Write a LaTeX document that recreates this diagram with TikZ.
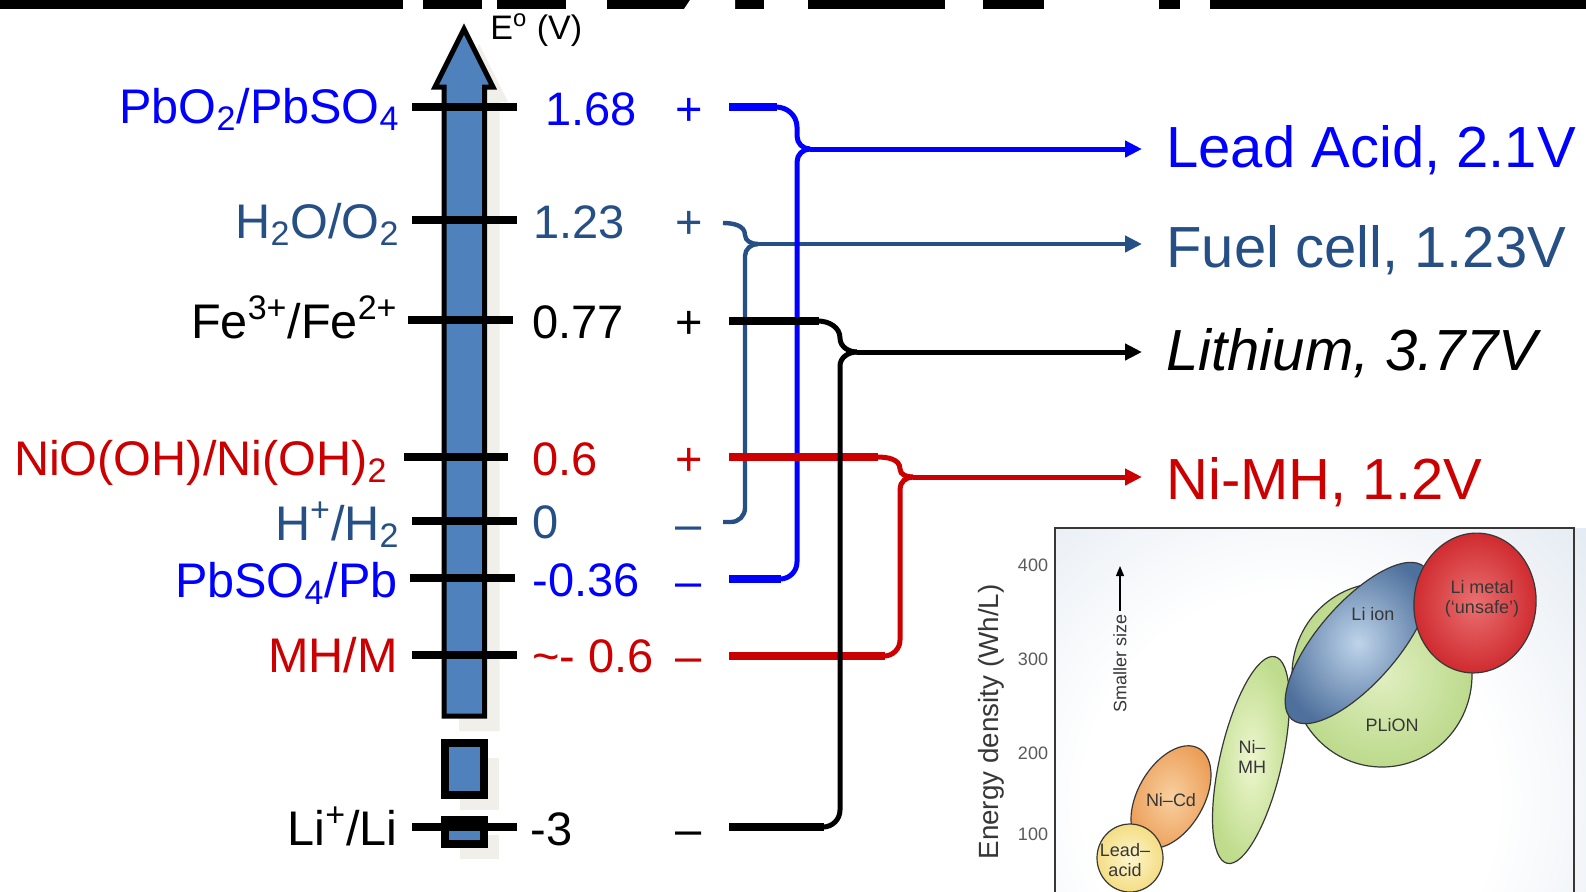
\documentclass[tikz,border=0pt]{standalone}
\usepackage{fontspec}
\setmainfont{Liberation Sans}
\usetikzlibrary{arrows.meta}

\definecolor{pbblue}{RGB}{0,0,255}
\definecolor{fcblue}{RGB}{38,80,133}
\definecolor{nired}{RGB}{204,0,0}
\definecolor{barblue}{RGB}{79,129,189}
\definecolor{barshadow}{RGB}{241,239,233}
\definecolor{insetblue}{RGB}{168,189,213}
\definecolor{inkgray}{RGB}{55,55,55}
\definecolor{tickgray}{RGB}{90,90,90}

\pgfdeclareradialshading{insetglow}{\pgfpoint{0bp}{0bp}}{color(0bp)=(white); color(12bp)=(white); color(50bp)=(insetblue)}

\begin{document}
\begin{tikzpicture}[x=0.5pt,y=-0.5pt,
  lbl/.style={font=\fontsize{23.5}{28}\selectfont, inner sep=0pt},
  couplelbl/.style={font=\fontsize{24.3}{28}\selectfont, inner sep=0pt, anchor=base east},
  couple/.style={font=\fontsize{29}{34}\selectfont, inner xsep=12pt, inner ysep=0pt, anchor=base west},
  tickline/.style={line width=4pt},
  wire/.style={line width=2.5pt},
  stub/.style={line width=4pt},
  arr/.style={-{Triangle[length=8.5pt,width=8pt]}},
  blob/.style={draw=inkgray, line width=0.6pt},
  small/.style={font=\fontsize{9}{10}\selectfont, text=inkgray, align=center, inner sep=0pt}
]
\useasboundingbox (0,0) rectangle (1586,891);
\fill[white] (0,0) rectangle (1586,891);

% ---- header band ----
\fill[black] (0,0) rectangle (1586,9);
\fill[white] (403,0) rectangle (423,9);
\fill[white] (482,0) rectangle (497,9);
\fill[white] (566,0) rectangle (607,9);
\fill[white] (690,0) -- (735,0) -- (735,9) -- (684,9) -- cycle;
\fill[white] (764,0) rectangle (808,9);
\fill[white] (945,0) rectangle (983,9);
\fill[white] (1044,0) rectangle (1159,9);
\fill[white] (1180,0) rectangle (1210,9);

% ---- potential axis ----
\begin{scope}[shift={(15,15)}]
  \fill[barshadow] (444,716) -- (444,87) -- (435,87) -- (464,29) -- (493,87) -- (484.5,87) -- (484.5,716) -- cycle;
  \fill[barshadow] (444.5,743) rectangle (483.5,794.5);
  \fill[barshadow] (444.5,820) rectangle (483.5,844);
\end{scope}
\draw[fill=barblue, line width=2.5pt, line join=miter]
  (444,716) -- (444,87) -- (435,87) -- (464,29) -- (493,87) -- (484.5,87) -- (484.5,716) -- cycle;
\draw[fill=barblue, line width=4pt] (444.5,743) rectangle (483.5,794.5);
\draw[fill=barblue, line width=4pt] (444.5,820) rectangle (483.5,844);

\node[font=\fontsize{17}{20}\selectfont, inner sep=0pt, anchor=base west] (axis) at (490,39) {E\textsuperscript{o} (V)};

% tick marks
\draw[tickline] (412,107) -- (517,107);
\draw[tickline] (412,220) -- (517,220);
\draw[tickline] (408,320) -- (513,320);
\draw[tickline] (404,457) -- (508,457);
\draw[tickline] (412,521) -- (517,521);
\draw[tickline] (410,578) -- (515,578);
\draw[tickline] (412,655) -- (517,655);
\draw[tickline] (412,827) -- (517,827);

% couples
\node[couplelbl, text=pbblue] (c1) at (400,123) {PbO\textsubscript{2}/PbSO\textsubscript{4}};
\node[couplelbl, text=fcblue] (c2) at (400,238) {H\textsubscript{2}O/O\textsubscript{2}};
\node[couplelbl] (c3) at (398,338) {Fe\textsuperscript{3+}/Fe\textsuperscript{2+}};
\node[couplelbl, text=nired] (c4) at (388,475) {NiO(OH)/Ni(OH)\textsubscript{2}};
\node[couplelbl, text=fcblue] (c5) at (400,540) {H\textsuperscript{+}/H\textsubscript{2}};
\node[couplelbl, text=pbblue] (c6) at (398,597) {PbSO\textsubscript{4}/Pb};
\node[couplelbl, text=nired] (c7) at (398,672) {MH/M};
\node[couplelbl] (c8) at (398,845) {Li\textsuperscript{+}/Li};

% potentials
\node[lbl, anchor=base west, text=pbblue] (v1) at (545,125) {1.68};
\node[lbl, anchor=base west, text=fcblue] (v2) at (533,238) {1.23};
\node[lbl, anchor=base west] (v3) at (532,338) {0.77};
\node[lbl, anchor=base west, text=nired] (v4) at (532,475) {0.6};
\node[lbl, anchor=base west, text=fcblue] (v5) at (532,538) {0};
\node[lbl, anchor=base west, text=pbblue] (v6) at (532,596) {-0.36};
\node[lbl, anchor=base west, text=nired] (v7) at (532,672) {\textasciitilde- 0.6};
\node[lbl, anchor=base west] (v8) at (530,845) {-3};

% electrode signs
\node[lbl, anchor=base, text=pbblue] (s1) at (689,125) {+};
\node[lbl, anchor=base, text=fcblue] (s2) at (689,238) {+};
\node[lbl, anchor=base] (s3) at (689,338) {+};
\node[lbl, anchor=base, text=nired] (s4) at (689,475) {+};
\node[lbl, anchor=base, text=fcblue] (s5) at (689,540) {–};
\node[lbl, anchor=base, text=pbblue] (s6) at (689,597) {–};
\node[lbl, anchor=base, text=nired] (s7) at (689,672) {–};
\node[lbl, anchor=base] (s8) at (689,845) {–};

% cells
\node[couple, text=pbblue] (lead) at (1142,167) {Lead Acid, 2.1V};
\node[couple, text=fcblue] (fuel) at (1142,267) {Fuel cell, 1.23V};
\node[couple, font=\fontsize{29}{34}\selectfont\itshape] (lith) at (1142,370) {Lithium, 3.77V};
\node[couple, text=nired] (nimh) at (1142,499) {Ni-MH, 1.2V};

\coordinate (jFuel) at (758,244);
\coordinate (jLead) at (810,149);
\coordinate (jNi) at (913,477);
\coordinate (jLi) at (857,352);

% fuel cell pair
\draw[wire, line width=2.2pt, fcblue] (723,223) to[out=0,in=90] (745,235) to[out=-90,in=180] (jFuel);
\draw[wire, line width=2.2pt, fcblue] (jFuel) to[out=180,in=90] (745,256) -- (745,508) to[out=-90,in=0] (731,522) -- (723,522);
\draw[wire, line width=2.2pt, fcblue, arr] (jFuel) -- (jFuel -| fuel.west);

% lead acid pair
\draw[stub, pbblue] (729,107) -- (777,107);
\draw[wire, pbblue] (776,107) to[out=0,in=90] (797,127) -- (797,136) to[out=-90,in=180] (jLead);
\draw[wire, pbblue] (jLead) to[out=180,in=90] (797,162) -- (797,562) to[out=-90,in=0] (780,579);
\draw[stub, pbblue] (781,579) -- (729,579);
\draw[wire, pbblue, arr] (jLead) -- (jLead -| lead.west);

% nickel metal hydride pair
\draw[stub, nired] (729,457) -- (878,457);
\draw[wire, nired] (877,457) to[out=0,in=90] (900,469) to[out=-90,in=180] (jNi);
\draw[wire, nired] (jNi) to[out=180,in=90] (900,489) -- (900,640) to[out=-90,in=0] (884,656);
\draw[stub, nired] (885,656) -- (729,656);
\draw[wire, nired, arr] (jNi) -- (jNi -| nimh.west);

% lithium pair
\draw[stub] (729,321) -- (819,321);
\draw[wire] (818,321) to[out=0,in=90] (840,338) to[out=-90,in=180] (jLi);
\draw[wire] (jLi) to[out=180,in=90] (840,366) -- (840,810) to[out=-90,in=0] (823,827);
\draw[stub] (824,827) -- (729,827);
\draw[wire, arr] (jLi) -- (jLi -| lith.west);

% ---- energy density chart ----
\begin{scope}
  \clip (1055,528) rectangle (1586,891);
  \shade[shading=insetglow] (1290,800) circle (430);
\end{scope}
\draw[inkgray, line width=0.8pt] (1055,895) -- (1055,528) -- (1574,528) -- (1574,895);

\node[font=\fontsize{13.9}{16}\selectfont, text=inkgray, rotate=90, inner sep=0pt] (ylab) at (991,722) {Energy density (Wh/L)};
\node[small, text=tickgray] (t400) at (1033,565) {400};
\node[small, text=tickgray] (t300) at (1033,659) {300};
\node[small, text=tickgray] (t200) at (1033,753) {200};
\node[small, text=tickgray] (t100) at (1033,834) {100};

\node[small, rotate=90, anchor=west] (ss) at (1120,713) {Smaller size};
\coordinate (ssTip) at (1120,566);
\draw[line width=0.6pt, -{Triangle[length=5pt,width=4pt]}] ([xshift=0pt]ss.east) ++(0,-3) -- (ssTip);

\shade[inner color={rgb,255:red,248;green,208;blue,160}, outer color={rgb,255:red,236;green,158;blue,88}, rotate around={60:(1171,797)}] (1171,797) ellipse [x radius=56, y radius=33];
\draw[blob, rotate around={60:(1171,797)}] (1171,797) ellipse [x radius=56, y radius=33];

\shade[inner color={rgb,255:red,253;green,246;blue,205}, outer color={rgb,255:red,244;green,221;blue,132}] (1130,858) ellipse [x radius=33, y radius=34];
\draw[blob] (1130,858) ellipse [x radius=33, y radius=34];

\shade[inner color={rgb,255:red,238;green,246;blue,206}, outer color={rgb,255:red,190;green,220;blue,140}, rotate around={77:(1251,760)}] (1251,760) ellipse [x radius=106, y radius=31];
\draw[blob, rotate around={77:(1251,760)}] (1251,760) ellipse [x radius=106, y radius=31];

\shade[inner color={rgb,255:red,224;green,239;blue,192}, outer color={rgb,255:red,188;green,218;blue,140}] (1382,675) ellipse [x radius=90, y radius=92];
\draw[blob] (1382,675) ellipse [x radius=90, y radius=92];

\shade[inner color={rgb,255:red,190;green,212;blue,234}, outer color={rgb,255:red,78;green,112;blue,156}, rotate around={49:(1358,643)}] (1358,643) ellipse [x radius=101, y radius=40];
\draw[blob, rotate around={49:(1358,643)}] (1358,643) ellipse [x radius=101, y radius=40];

\shade[inner color={rgb,255:red,234;green,112;blue,112}, outer color={rgb,255:red,206;green,40;blue,45}, rotate around={84:(1475,603)}] (1475,603) ellipse [x radius=70, y radius=61];
\draw[blob, rotate around={84:(1475,603)}] (1475,603) ellipse [x radius=70, y radius=61];

\node[small] (nLead) at (1125,860) {Lead–\\acid};
\node[small] (nNiCd) at (1171,800) {Ni–Cd};
\node[small] (nNiMH) at (1252,757) {Ni–\\MH};
\node[small] (nPlion) at (1392,725) {PLiON};
\node[small] (nLiIon) at (1373,614) {Li ion};
\node[small] (nLiMet) at (1482,599) {Li metal\\(‘unsafe’)};
\end{tikzpicture}
\end{document}
